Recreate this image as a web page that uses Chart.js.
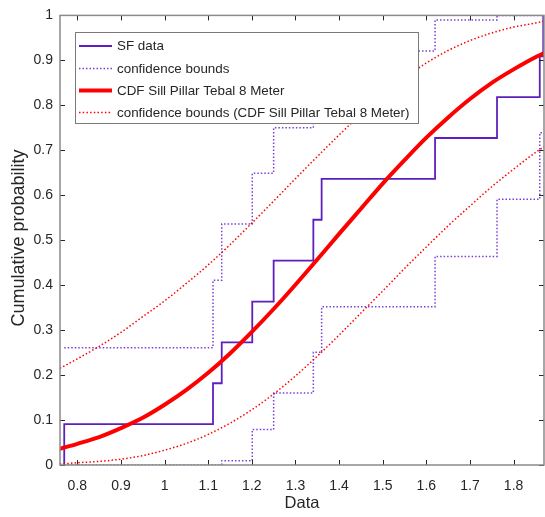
<!DOCTYPE html>
<html>
<head>
<meta charset="utf-8">
<script src="https://cdn.jsdelivr.net/npm/chart.js@4.4.1/dist/chart.umd.min.js"></script>
<style>
  html, body { margin: 0; padding: 0; background: #fff; }
  #wrap { width: 545px; height: 517px; position: relative; }
</style>
</head>
<body>
<div id="wrap"><canvas id="cdfChart" width="545" height="517"></canvas></div>
<script>
// empirical CDF of SF data (jump points and levels)
const sfX = [0.770, 1.111, 1.131, 1.201, 1.250, 1.341, 1.360, 1.620, 1.762, 1.860, 1.868];
const sfF = [0.0909, 0.1818, 0.2727, 0.3636, 0.4545, 0.5455, 0.6364, 0.7273, 0.8182, 0.9091, 1.0];
// confidence bounds of the empirical CDF (level after each jump)
const sfUpper = [0.261, 0.411, 0.536, 0.649, 0.750, 0.840, 0.921, 0.990, 1.0, 1.0];
const sfLower = [0.0, 0.0, 0.0095, 0.079, 0.160, 0.251, 0.352, 0.464, 0.591, 0.739];

// fitted CDF and its bounds
const fitX = [0.76, 0.80, 0.85, 0.90, 0.95, 1.00, 1.05, 1.10, 1.15, 1.20, 1.25, 1.30,
              1.35, 1.40, 1.45, 1.50, 1.55, 1.60, 1.65, 1.70, 1.75, 1.80, 1.85, 1.87];
const fitCdf = [0.036, 0.047, 0.062, 0.082, 0.105, 0.134, 0.167, 0.205, 0.248, 0.296, 0.347, 0.401,
                0.457, 0.514, 0.570, 0.626, 0.678, 0.728, 0.773, 0.814, 0.850, 0.880, 0.907, 0.916];
const fitUpper = [0.215, 0.236, 0.264, 0.295, 0.330, 0.365, 0.404, 0.445, 0.490, 0.538, 0.587, 0.637,
                  0.686, 0.734, 0.780, 0.823, 0.861, 0.894, 0.922, 0.944, 0.961, 0.974, 0.983, 0.987];
const fitLower = [0.002, 0.005, 0.008, 0.013, 0.021, 0.033, 0.048, 0.068, 0.093, 0.123, 0.158, 0.198,
                  0.242, 0.289, 0.338, 0.387, 0.437, 0.485, 0.532, 0.576, 0.619, 0.658, 0.695, 0.708];

const xTicks = [0.8, 0.9, 1.0, 1.1, 1.2, 1.3, 1.4, 1.5, 1.6, 1.7, 1.8];
const yTicks = [0, 0.1, 0.2, 0.3, 0.4, 0.5, 0.6, 0.7, 0.8, 0.9, 1];
const xRange = [0.7603, 1.8697];

const legendLabels = ['SF data', 'confidence bounds', 'CDF Sill Pillar Tebal 8 Meter',
                      'confidence bounds (CDF Sill Pillar Tebal 8 Meter)'];
const xTitle = 'Data';
const yTitle = 'Cumulative probability';

const PURPLE = '#5e1fbf';
const PURPLE_DOT = '#7a3fd8';
const RED = '#ff0000';
const TEXT = '#262626';
const FONT = '"Liberation Sans", Arial, sans-serif';

// stairs: start at (x0, 0), then each level holds until the next jump
const sfPoints = [{ x: sfX[0], y: 0 }].concat(sfX.map((x, i) => ({ x, y: sfF[i] })));
const boundPoints = vals => vals.map((v, i) => ({ x: sfX[i], y: v }))
  .concat([{ x: sfX[sfX.length - 1], y: vals[vals.length - 1] }]);
const curve = vals => fitX.map((x, i) => ({ x, y: vals[i] }));

const stairStyle = { stepped: 'before', pointRadius: 0, fill: false };
const curveStyle = { pointRadius: 0, fill: false, cubicInterpolationMode: 'monotone' };

const datasets = [
  { label: legendLabels[0], data: sfPoints, borderColor: PURPLE, borderWidth: 1.8, order: 2, ...stairStyle },
  { label: legendLabels[1], data: boundPoints(sfUpper), borderColor: PURPLE_DOT, borderWidth: 1.5,
    borderDash: [1.5, 2], order: 3, ...stairStyle },
  { label: legendLabels[1], data: boundPoints(sfLower), borderColor: PURPLE_DOT, borderWidth: 1.5,
    borderDash: [1.5, 2], order: 3, ...stairStyle },
  { label: legendLabels[2], data: curve(fitCdf), borderColor: RED, borderWidth: 4, order: 0, ...curveStyle },
  { label: legendLabels[3], data: curve(fitUpper), borderColor: RED, borderWidth: 1.5,
    borderDash: [1.5, 2.2], order: 1, ...curveStyle },
  { label: legendLabels[3], data: curve(fitLower), borderColor: RED, borderWidth: 1.5,
    borderDash: [1.5, 2.2], order: 1, ...curveStyle }
];

// box, inward ticks on all four sides, legend and axis titles
const matlabAxes = {
  id: 'matlabAxes',
  afterDraw(chart) {
    const { ctx, chartArea: a, scales } = chart;
    const tl = 5;
    ctx.save();
    ctx.strokeStyle = TEXT;
    ctx.lineWidth = 1;
    ctx.beginPath();
    xTicks.forEach(v => {
      const px = Math.round(scales.x.getPixelForValue(v)) + 0.5;
      ctx.moveTo(px, a.bottom); ctx.lineTo(px, a.bottom - tl);
      ctx.moveTo(px, a.top); ctx.lineTo(px, a.top + tl);
    });
    yTicks.forEach(v => {
      const py = Math.round(scales.y.getPixelForValue(v)) + 0.5;
      ctx.moveTo(a.left, py); ctx.lineTo(a.left + tl, py);
      ctx.moveTo(a.right, py); ctx.lineTo(a.right - tl, py);
    });
    ctx.stroke();
    ctx.strokeStyle = '#8a8a8a';
    ctx.lineWidth = 1.5;
    ctx.strokeRect(a.left, a.top, a.right - a.left, a.bottom - a.top);

    // legend
    const lx = 75.5, ly = 32.5, lw = 343, lh = 91;
    ctx.fillStyle = '#fff';
    ctx.fillRect(lx, ly, lw, lh);
    ctx.strokeStyle = '#7a7a7a';
    ctx.lineWidth = 1;
    ctx.strokeRect(lx, ly, lw, lh);
    const rows = [
      { ds: datasets[0], y: 46 }, { ds: datasets[1], y: 68.5 },
      { ds: datasets[3], y: 90.5 }, { ds: datasets[4], y: 112.5 }
    ];
    ctx.font = '13.4px ' + FONT;
    ctx.textBaseline = 'middle';
    ctx.textAlign = 'left';
    rows.forEach(r => {
      ctx.beginPath();
      ctx.strokeStyle = r.ds.borderColor;
      ctx.lineWidth = r.ds.borderWidth;
      ctx.setLineDash(r.ds.borderDash || []);
      ctx.moveTo(79, r.y); ctx.lineTo(112, r.y);
      ctx.stroke();
      ctx.setLineDash([]);
      ctx.fillStyle = TEXT;
      ctx.fillText(r.ds.label, 117, r.y + 0.5);
    });

    // axis titles
    ctx.fillStyle = TEXT;
    ctx.textAlign = 'center';
    ctx.font = '16.5px ' + FONT;
    ctx.fillText(xTitle, (a.left + a.right) / 2, 503);
    ctx.font = '18px ' + FONT;
    ctx.translate(19, 238);
    ctx.rotate(-Math.PI / 2);
    ctx.fillText(yTitle, 0, 0);
    ctx.restore();
  }
};

new Chart(document.getElementById('cdfChart'), {
  type: 'line',
  data: { datasets },
  options: {
    responsive: false,
    animation: false,
    events: [],
    layout: { padding: { left: 0, top: 15, right: 1, bottom: 0 } },
    plugins: { legend: { display: false }, tooltip: { enabled: false } },
    scales: {
      x: {
        type: 'linear', min: xRange[0], max: xRange[1],
        afterBuildTicks: s => { s.ticks = xTicks.map(v => ({ value: v })); },
        afterFit: s => { s.height = 52; },
        grid: { display: false, drawTicks: false },
        border: { display: false },
        ticks: {
          padding: 13, color: TEXT, font: { size: 14, family: FONT }, maxRotation: 0,
          callback: v => String(Math.round(v * 10) / 10)
        }
      },
      y: {
        type: 'linear', min: 0, max: 1,
        afterBuildTicks: s => { s.ticks = yTicks.map(v => ({ value: v })); },
        afterFit: s => { s.width = 60; },
        grid: { display: false, drawTicks: false },
        border: { display: false },
        ticks: {
          padding: 7, color: TEXT, font: { size: 14, family: FONT },
          callback: v => String(Math.round(v * 10) / 10)
        }
      }
    }
  },
  plugins: [matlabAxes]
});
</script>
</body>
</html>
